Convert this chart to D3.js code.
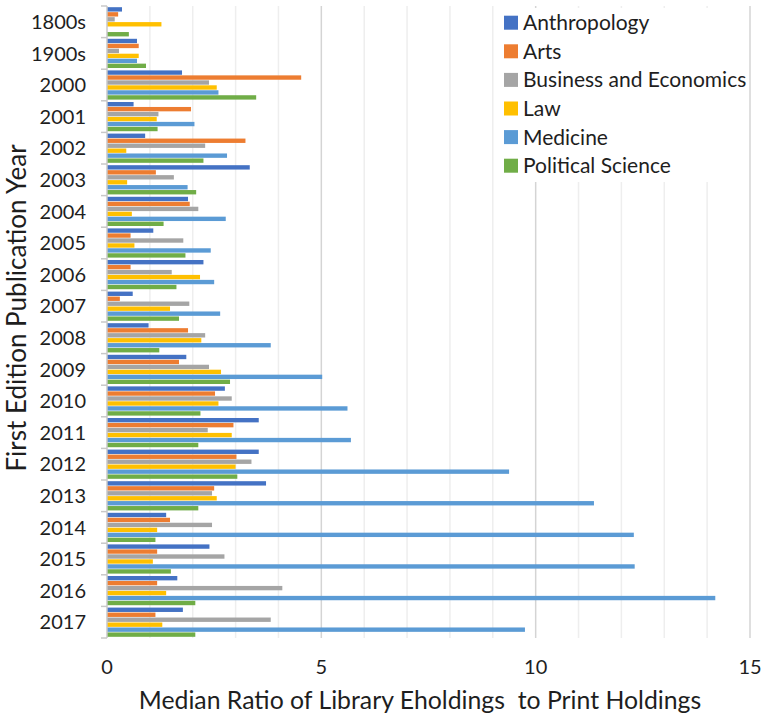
<!DOCTYPE html>
<html>
<head>
<meta charset="utf-8">
<script src="https://cdn.jsdelivr.net/npm/d3@7"></script>
<style>
  body { margin: 0; background: #fff; }
  text { font-family: Lato, "Noto Sans", sans-serif; fill: #1e1e1e; }
</style>
</head>
<body>
<svg id="chart" width="764" height="717"></svg>
<script>
'use strict';

const years = ['1800s', '1900s', '2000', '2001', '2002', '2003', '2004', '2005', '2006', '2007',
    '2008', '2009', '2010', '2011', '2012', '2013', '2014', '2015', '2016', '2017'];

const subjects = ['Anthropology', 'Arts', 'Business and Economics', 'Law', 'Medicine', 'Political Science'];
const colors = ['#4472C4', '#ED7D31', '#A5A5A5', '#FFC000', '#5B9BD5', '#70AD47'];

const anthropology = [0.35, 0.70, 1.75, 0.62, 0.89, 3.33, 1.89, 1.08, 2.25, 0.60,
    0.97, 1.85, 2.75, 3.54, 3.54, 3.71, 1.38, 2.39, 1.64, 1.77];
const arts = [0.26, 0.74, 4.53, 1.96, 3.23, 1.14, 1.93, 0.55, 0.55, 0.30,
    1.89, 1.68, 2.52, 2.95, 3.02, 2.50, 1.47, 1.17, 1.17, 1.13];
const business = [0.18, 0.28, 2.38, 1.20, 2.29, 1.56, 2.13, 1.78, 1.51, 1.92,
    2.29, 2.38, 2.91, 2.35, 3.37, 2.45, 2.45, 2.74, 4.09, 3.82];
const law = [1.27, 0.74, 2.56, 1.16, 0.45, 0.47, 0.58, 0.64, 2.17, 1.47,
    2.20, 2.66, 2.60, 2.91, 3.00, 2.56, 1.17, 1.07, 1.38, 1.29];
const medicine = [0, 0.70, 2.60, 2.04, 2.80, 1.88, 2.77, 2.42, 2.50, 2.64,
    3.82, 5.02, 5.61, 5.69, 9.38, 11.36, 12.29, 12.31, 14.19, 9.75];
const politicalScience = [0.51, 0.91, 3.48, 1.18, 2.25, 2.08, 1.32, 1.83, 1.62, 1.68,
    1.22, 2.87, 2.18, 2.13, 3.04, 2.13, 1.13, 1.49, 2.06, 2.06];

const seriesValues = [anthropology, arts, business, law, medicine, politicalScience];
const xTicks = [0, 5, 10, 15];

document.addEventListener('DOMContentLoaded', function() {
    const svg = d3.select('#chart');
    const left = 107, right = 750, top = 6, bottom = 638;

    const x = d3.scaleLinear().domain([0, 15]).range([left, right]);
    const y = d3.scaleBand().domain(years).range([top, bottom]).paddingInner(0).paddingOuter(0);
    const inner = d3.scaleBand().domain(subjects).range([0, y.bandwidth()]).paddingOuter(0.18).paddingInner(0);

    // gridlines: minor each unit, major every 5
    const grid = svg.append('g').attr('class', 'grid');
    grid.selectAll('line')
        .data(d3.range(1, 16))
        .enter().append('line')
            .attr('x1', function(d) { return x(d); })
            .attr('x2', function(d) { return x(d); })
            .attr('y1', top)
            .attr('y2', bottom)
            .attr('stroke', function(d) { return d % 5 === 0 ? '#d4d4d4' : '#eeeeee'; })
            .attr('stroke-width', 1.5);

    // bars
    const rows = svg.append('g')
        .selectAll('g')
        .data(years)
        .enter().append('g')
            .attr('transform', function(d) { return 'translate(0,' + y(d) + ')'; });

    rows.selectAll('rect')
        .data(function(d, i) {
            return subjects.map(function(s, j) { return { subject: s, value: seriesValues[j][i], idx: j }; });
        })
        .enter().append('rect')
            .attr('x', x(0))
            .attr('y', function(d) { return inner(d.subject) + 0.3; })
            .attr('height', inner.bandwidth() - 0.6)
            .attr('width', function(d) { return x(d.value) - x(0); })
            .attr('fill', function(d) { return colors[d.idx]; });

    // y axis
    const yAxis = svg.append('g');
    yAxis.append('line')
        .attr('x1', left).attr('x2', left)
        .attr('y1', top).attr('y2', bottom)
        .attr('stroke', '#c8c8c8').attr('stroke-width', 1.5);
    yAxis.selectAll('line.tick')
        .data(years.concat(['end']))
        .enter().append('line')
            .attr('class', 'tick')
            .attr('x1', left - 6).attr('x2', left)
            .attr('y1', function(d) { return d === 'end' ? bottom : y(d); })
            .attr('y2', function(d) { return d === 'end' ? bottom : y(d); })
            .attr('stroke', '#c8c8c8').attr('stroke-width', 1.5);
    yAxis.selectAll('text')
        .data(years)
        .enter().append('text')
            .attr('x', 86)
            .attr('y', function(d) { return y(d) + y.bandwidth() / 2; })
            .attr('dy', '0.36em')
            .attr('text-anchor', 'end')
            .style('font-size', '20px')
            .text(function(d) { return d; });

    // x axis labels
    svg.append('g')
        .selectAll('text')
        .data(xTicks)
        .enter().append('text')
            .attr('x', function(d) { return x(d); })
            .attr('y', 674)
            .attr('text-anchor', 'middle')
            .style('font-size', '20px')
            .text(function(d) { return d; });

    svg.append('text')
        .attr('x', 420)
        .attr('y', 709)
        .attr('text-anchor', 'middle')
        .attr('xml:space', 'preserve')
        .style('font-size', '24.8px')
        .text('Median Ratio of Library Eholdings  to Print Holdings');

    svg.append('text')
        .attr('transform', 'translate(26,' + 308 + ') rotate(-90)')
        .attr('text-anchor', 'middle')
        .style('font-size', '26px')
        .text('First Edition Publication Year');

    // legend
    const legend = svg.append('g');
    legend.append('rect')
        .attr('x', 495).attr('y', 8)
        .attr('width', 253).attr('height', 174)
        .attr('fill', '#fff');
    const items = legend.selectAll('g')
        .data(subjects)
        .enter().append('g')
            .attr('transform', function(d, i) { return 'translate(504,' + (22.7 + i * 28.6) + ')'; });
    items.append('rect')
        .attr('x', 0).attr('y', -7)
        .attr('width', 14).attr('height', 14)
        .attr('fill', function(d, i) { return colors[i]; });
    items.append('text')
        .attr('x', 19)
        .attr('dy', '0.36em')
        .style('font-size', '21px')
        .text(function(d) { return d; });
}, false);
</script>
</body>
</html>
